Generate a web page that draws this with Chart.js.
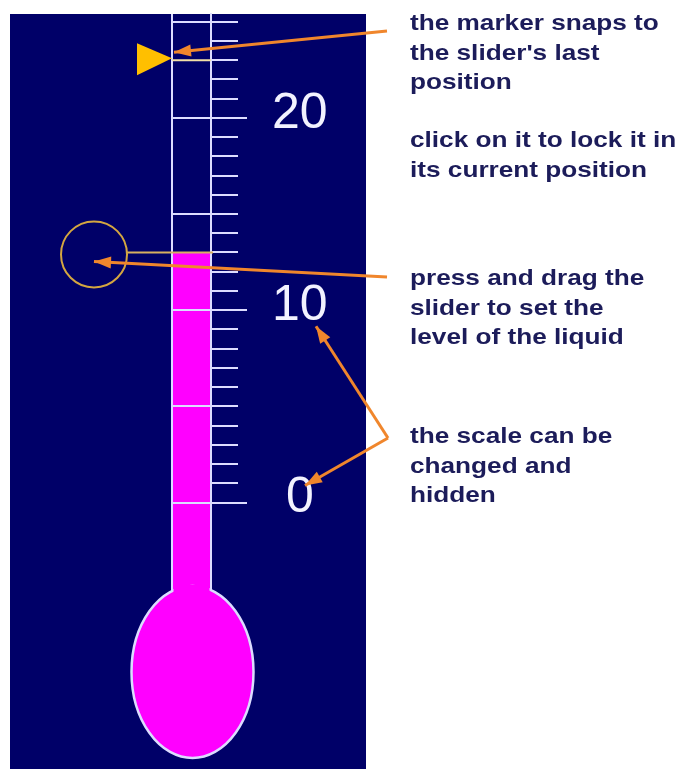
<!DOCTYPE html>
<html>
<head>
<meta charset="utf-8">
<script src="https://cdn.jsdelivr.net/npm/chart.js@4.4.1/dist/chart.umd.min.js"></script>
<style>
body { margin: 0; background: #fff; }
</style>
</head>
<body>
<canvas id="myChart" width="685" height="769"></canvas>
<script>
let tube_label = ["tube"];
let liquid_level = [13];
let marker_level = [23];
let scale_min = -4.6;
let scale_max = 25.4;
let tick_values = [0, 1, 2, 3, 4, 5, 6, 7, 8, 9, 10, 11, 12, 13, 14, 15, 16, 17, 18, 19, 20, 21, 22, 23, 24, 25];
let label_values = [0, 10, 20];
let note_lines = [
	["the marker snaps to", "the slider's last", "position"],
	["click on it to lock it in", "its current position"],
	["press and drag the", "slider to set the", "level of the liquid"],
	["the scale can be", "changed and", "hidden"]
];

let navy = "#000068";
let pink = "#ff00ff";
let pale = "#dcdcff";
let orange = "#f0862c";
let myChart;

function arrow(c, x1, y1, x2, y2, head) {
	c.beginPath();
	c.moveTo(x1, y1);
	c.lineTo(x2, y2);
	c.stroke();
	if (head) {
		let ang = Math.atan2(y2 - y1, x2 - x1);
		let cs = Math.cos(ang), sn = Math.sin(ang);
		c.beginPath();
		c.moveTo(x2, y2);
		c.lineTo(x2 - 17 * cs + 6 * sn, y2 - 17 * sn - 6 * cs);
		c.lineTo(x2 - 17 * cs - 6 * sn, y2 - 17 * sn + 6 * cs);
		c.closePath();
		c.fill();
	}
}

const thermoPlugin = {
	id: 'thermo',
	beforeDraw(chart) {
		let c = chart.ctx;
		c.save();
		c.fillStyle = "#fff";
		c.fillRect(0, 0, chart.width, chart.height);
		c.fillStyle = navy;
		c.fillRect(10, 14, 356, chart.height - 14);
		c.restore();
	},
	afterDraw(chart) {
		let c = chart.ctx;
		let a = chart.chartArea;
		let ys = chart.scales.y;
		c.save();

		// left wall of the tube
		c.strokeStyle = pale;
		c.lineWidth = 2;
		c.beginPath();
		c.moveTo(a.left, a.top);
		c.lineTo(a.left, a.bottom);
		c.stroke();

		// longer ticks for the labelled values
		for (let v of label_values) {
			let py = Math.round(ys.getPixelForValue(v));
			c.beginPath();
			c.moveTo(a.right, py);
			c.lineTo(a.right + 36, py);
			c.stroke();
		}

		// bulb
		let cx = (a.left + a.right) / 2 + 1;
		let cy = a.bottom + 81;
		c.fillStyle = pink;
		c.strokeStyle = pale;
		c.lineWidth = 2.5;
		c.beginPath();
		c.ellipse(cx, cy, 61, 86, 0, 0, Math.PI * 2);
		c.fill();
		c.stroke();
		c.fillRect(a.left + 1.5, a.bottom - 6, a.right - a.left - 3, 14);

		// marker
		let my = ys.getPixelForValue(marker_level[0]);
		c.strokeStyle = "#f2e0a8";
		c.lineWidth = 2;
		c.beginPath();
		c.moveTo(a.left, my);
		c.lineTo(a.right, my);
		c.stroke();
		c.fillStyle = "#ffbf00";
		c.beginPath();
		c.moveTo(a.left - 35, my - 17);
		c.lineTo(a.left - 35, my + 15);
		c.lineTo(a.left, my - 2);
		c.closePath();
		c.fill();

		// slider
		let ly = ys.getPixelForValue(liquid_level[0]);
		c.strokeStyle = "#d8b060";
		c.lineWidth = 2;
		c.beginPath();
		c.moveTo(127, ly);
		c.lineTo(a.right + 2, ly);
		c.stroke();
		c.strokeStyle = "#d4a640";
		c.beginPath();
		c.arc(94, ly + 2, 33, 0, Math.PI * 2);
		c.stroke();

		// arrows
		c.strokeStyle = orange;
		c.fillStyle = orange;
		c.lineWidth = 3;
		arrow(c, 387, 31, a.left + 2, my - 8, true);
		arrow(c, 387, 277, 94, ly + 9, true);
		let y10 = ys.getPixelForValue(10);
		let y0 = ys.getPixelForValue(0);
		arrow(c, 388, 438, 316, y10 + 16, true);
		arrow(c, 388, 438, 305, y0 - 17, true);

		// notes
		let starts = [30, 147, 285, 443];
		c.fillStyle = "#1c1c5a";
		c.font = "bold 22px 'Liberation Sans', Arial, sans-serif";
		c.textBaseline = "alphabetic";
		c.scale(1.19, 1);
		for (let g = 0; g < note_lines.length; g++) {
			for (let i = 0; i < note_lines[g].length; i++) {
				c.fillText(note_lines[g][i], 410 / 1.19, starts[g] + i * 29.5);
			}
		}
		c.restore();
	}
};

function openChart() {
	let data = {
		labels: tube_label,
		datasets: [{
			data: [[scale_min, liquid_level[0]]],
			backgroundColor: pink,
			borderWidth: 0,
			barPercentage: 1,
			categoryPercentage: 1
		}]
	};
	let options = {
		responsive: false,
		animation: false,
		devicePixelRatio: 1,
		layout: { padding: { left: 172, top: 14, bottom: 769 - 591, right: 0 } },
		scales: {
			x: { display: false },
			y: {
				position: 'right',
				min: scale_min,
				max: scale_max,
				z: 1,
				afterBuildTicks: function(scale) {
					scale.ticks = tick_values.map(v => ({ value: v }));
				},
				afterFit: function(scale) {
					scale.width = 685 - 211;
					scale.paddingTop = 0;
					scale.paddingBottom = 0;
				},
				border: { display: true, color: pale, width: 2, z: 1 },
				grid: {
					z: 1,
					drawTicks: true,
					tickLength: 27,
					tickWidth: 2,
					tickColor: pale,
					lineWidth: 2,
					color: function(ctx) {
						return (ctx.tick && ctx.tick.value % 5 === 0) ? pale : 'rgba(0,0,0,0)';
					}
				},
				ticks: {
					z: 1,
					color: "#f2f2ff",
					font: { family: "'Liberation Sans', Arial, sans-serif", size: 50 },
					padding: 34,
					crossAlign: 'center',
					labelOffset: -4,
					autoSkip: false,
					callback: function(value) {
						return label_values.includes(value) ? String(value) : '';
					}
				}
			}
		},
		plugins: {
			legend: { display: false },
			tooltip: { enabled: false }
		}
	};
	const ctx = document.getElementById('myChart').getContext('2d');
	myChart = new Chart(ctx, { type: 'bar', data, options, plugins: [thermoPlugin] });
}

openChart();
</script>
</body>
</html>
